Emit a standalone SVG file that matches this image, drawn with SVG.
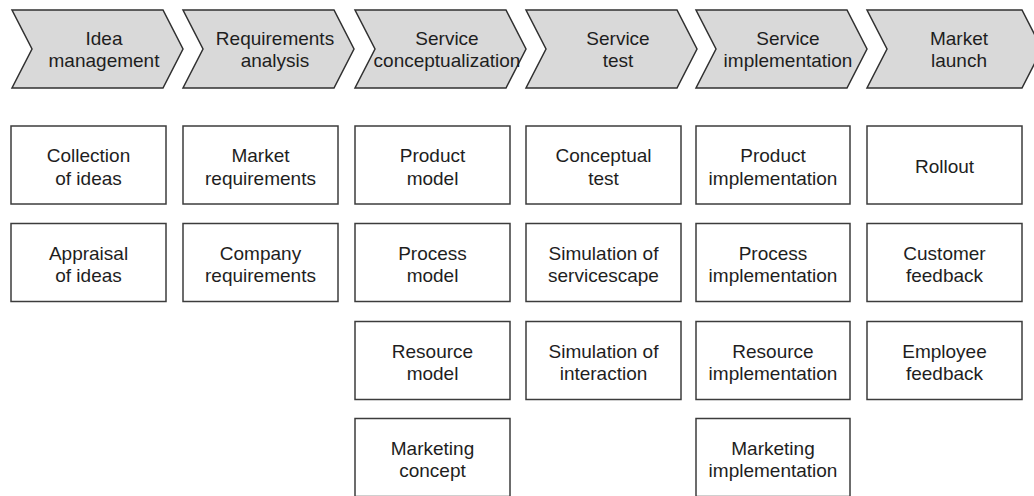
<svg xmlns="http://www.w3.org/2000/svg" width="1034" height="496" viewBox="0 0 1034 496">
<style>
.chev{fill:#d9d9d9;stroke:#303030;stroke-width:1.5;stroke-linejoin:miter}
.box{fill:#ffffff;stroke:#3c3c3c;stroke-width:1.5}
text{font-family:"Liberation Sans",Arial,sans-serif;font-size:19px;fill:#1e1e1e;text-anchor:middle}
</style>
<rect width="1034" height="496" fill="#ffffff"/>
<g id="phases">
<g id="phase-idea"><polygon class="chev" points="12,10 163,10 183,49 163,88 12,88 32,49"/><text x="104" y="44.5">Idea</text><text x="104" y="67">management</text></g>
<g id="phase-req"><polygon class="chev" points="183,10 334,10 354,49 334,88 183,88 203,49"/><text x="275" y="44.5">Requirements</text><text x="275" y="67">analysis</text></g>
<g id="phase-concept"><polygon class="chev" points="355,10 506,10 526,49 506,88 355,88 375,49"/><text x="447" y="44.5">Service</text><text x="447" y="67">conceptualization</text></g>
<g id="phase-test"><polygon class="chev" points="526,10 677,10 697,49 677,88 526,88 546,49"/><text x="618" y="44.5">Service</text><text x="618" y="67">test</text></g>
<g id="phase-impl"><polygon class="chev" points="696,10 847,10 867,49 847,88 696,88 716,49"/><text x="788" y="44.5">Service</text><text x="788" y="67">implementation</text></g>
<g id="phase-launch"><polygon class="chev" points="867,10 1022,10 1042,49 1022,88 867,88 887,49"/><text x="959" y="44.5">Market</text><text x="959" y="67">launch</text></g>
</g>
<g id="connectors"/>
<g id="col1">
<g id="collection-ideas"><rect class="box" x="11" y="126" width="155" height="78"/><text x="88.5" y="162">Collection</text><text x="88.5" y="184.5">of ideas</text></g>
<g id="appraisal-ideas"><rect class="box" x="11" y="223.5" width="155" height="78"/><text x="88.5" y="259.5">Appraisal</text><text x="88.5" y="282">of ideas</text></g>
</g>
<g id="col2">
<g id="market-req"><rect class="box" x="183" y="126" width="155" height="78"/><text x="260.5" y="162">Market</text><text x="260.5" y="184.5">requirements</text></g>
<g id="company-req"><rect class="box" x="183" y="223.5" width="155" height="78"/><text x="260.5" y="259.5">Company</text><text x="260.5" y="282">requirements</text></g>
</g>
<g id="col3">
<g id="product-model"><rect class="box" x="355" y="126" width="155" height="78"/><text x="432.5" y="162">Product</text><text x="432.5" y="184.5">model</text></g>
<g id="process-model"><rect class="box" x="355" y="223.5" width="155" height="78"/><text x="432.5" y="259.5">Process</text><text x="432.5" y="282">model</text></g>
<g id="resource-model"><rect class="box" x="355" y="321.5" width="155" height="78"/><text x="432.5" y="357.5">Resource</text><text x="432.5" y="380">model</text></g>
<g id="marketing-concept"><rect class="box" x="355" y="418.5" width="155" height="78"/><text x="432.5" y="454.5">Marketing</text><text x="432.5" y="477">concept</text></g>
</g>
<g id="col4">
<g id="conceptual-test"><rect class="box" x="526" y="126" width="155" height="78"/><text x="603.5" y="162">Conceptual</text><text x="603.5" y="184.5">test</text></g>
<g id="sim-servicescape"><rect class="box" x="526" y="223.5" width="155" height="78"/><text x="603.5" y="259.5">Simulation of</text><text x="603.5" y="282">servicescape</text></g>
<g id="sim-interaction"><rect class="box" x="526" y="321.5" width="155" height="78"/><text x="603.5" y="357.5">Simulation of</text><text x="603.5" y="380">interaction</text></g>
</g>
<g id="col5">
<g id="product-impl"><rect class="box" x="696" y="126" width="154" height="78"/><text x="773" y="162">Product</text><text x="773" y="184.5">implementation</text></g>
<g id="process-impl"><rect class="box" x="696" y="223.5" width="154" height="78"/><text x="773" y="259.5">Process</text><text x="773" y="282">implementation</text></g>
<g id="resource-impl"><rect class="box" x="696" y="321.5" width="154" height="78"/><text x="773" y="357.5">Resource</text><text x="773" y="380">implementation</text></g>
<g id="marketing-impl"><rect class="box" x="696" y="418.5" width="154" height="78"/><text x="773" y="454.5">Marketing</text><text x="773" y="477">implementation</text></g>
</g>
<g id="col6">
<g id="rollout"><rect class="box" x="867" y="126" width="155" height="78"/><text x="944.5" y="173">Rollout</text></g>
<g id="customer-feedback"><rect class="box" x="867" y="223.5" width="155" height="78"/><text x="944.5" y="259.5">Customer</text><text x="944.5" y="282">feedback</text></g>
<g id="employee-feedback"><rect class="box" x="867" y="321.5" width="155" height="78"/><text x="944.5" y="357.5">Employee</text><text x="944.5" y="380">feedback</text></g>
</g>
</svg>
